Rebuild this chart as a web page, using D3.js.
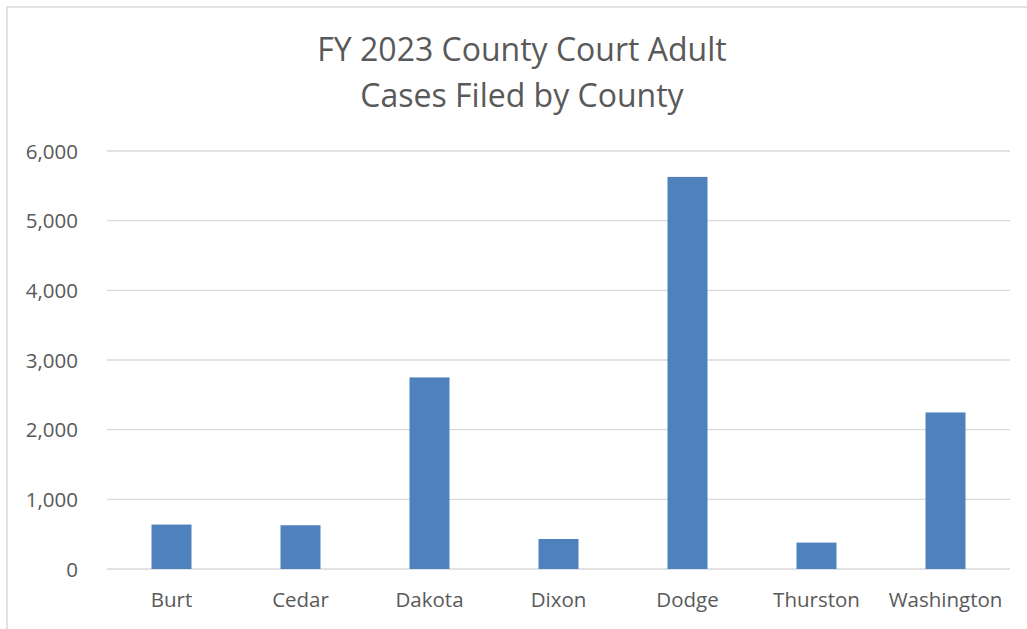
<!DOCTYPE html>
<meta charset="utf-8">
<style>
body { margin: 0; background: #fff; }
text { font-family: "Open Sans", sans-serif; fill: #595959; }
.grid line { stroke: #d9d9d9; stroke-width: 1.3; }
.axis text { font-size: 20.5px; }
</style>
<svg width="1027" height="629"></svg>
<script src="https://d3js.org/d3.v7.min.js"></script>
<script>

var counties = ["Burt", "Cedar", "Dakota", "Dixon", "Dodge", "Thurston", "Washington"];
var cases = [638, 628, 2750, 431, 5628, 379, 2247];
var yTicks = [0, 1000, 2000, 3000, 4000, 5000, 6000];
var titleLines = ["FY 2023 County Court Adult", "Cases Filed by County"];

var svg = d3.select("svg"),
    margin = {top: 151, right: 17, bottom: 60, left: 107},
    width = 1010 - margin.left,
    height = 569 - margin.top;

// chart frame (cropped at right / bottom)
svg.append("rect")
    .attr("x", 7).attr("y", 7)
    .attr("width", 1040).attr("height", 640)
    .attr("fill", "none")
    .attr("stroke", "#d9d9d9")
    .attr("stroke-width", 1.5);

svg.selectAll(".title")
  .data(titleLines)
  .enter().append("text")
    .attr("class", "title")
    .attr("x", 522)
    .attr("y", function(d, i) { return 61 + i * 46; })
    .attr("text-anchor", "middle")
    .style("font-size", "32px")
    .text(function(d) { return d; });

var g = svg.append("g").attr("transform", "translate(" + margin.left + "," + margin.top + ")");

var x = d3.scaleBand()
    .domain(counties)
    .range([0, width])
    .paddingInner(0.69)
    .paddingOuter(0.345);

var y = d3.scaleLinear()
    .domain([0, 6000])
    .range([height, 0]);

g.append("g")
    .attr("class", "grid")
  .selectAll("line")
  .data(yTicks)
  .enter().append("line")
    .attr("x1", 0).attr("x2", width)
    .attr("y1", function(d) { return y(d); })
    .attr("y2", function(d) { return y(d); });

g.selectAll(".bar")
  .data(cases)
  .enter().append("rect")
    .attr("class", "bar")
    .attr("x", function(d, i) { return x(counties[i]); })
    .attr("width", x.bandwidth())
    .attr("y", function(d) { return y(d); })
    .attr("height", function(d) { return height - y(d); })
    .attr("fill", "#4f81bd");

var yAxis = g.append("g")
    .attr("class", "axis")
    .attr("transform", "translate(-29,0)")
    .call(d3.axisLeft(y).tickValues(yTicks).tickFormat(d3.format(",")).tickSize(0).tickPadding(0));
yAxis.select(".domain").remove();
yAxis.selectAll("text").attr("fill", "#595959").attr("dy", "0.35em");

var xAxis = g.append("g")
    .attr("class", "axis")
    .attr("transform", "translate(0," + height + ")")
    .call(d3.axisBottom(x).tickSize(0).tickPadding(23));
xAxis.select(".domain").remove();
xAxis.selectAll("text").attr("fill", "#595959");

</script>
